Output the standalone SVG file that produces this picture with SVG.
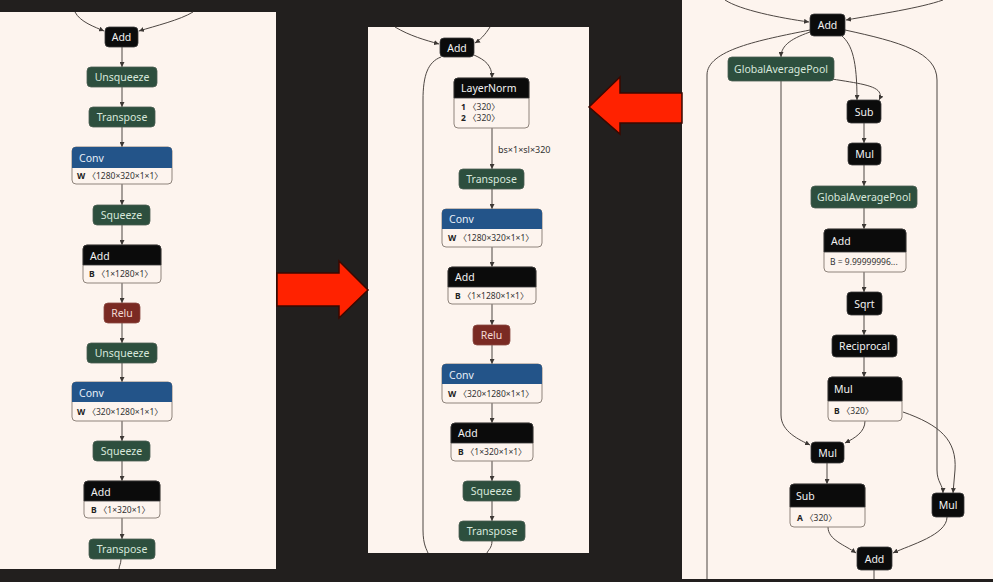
<svg xmlns="http://www.w3.org/2000/svg" width="993" height="582" viewBox="0 0 993 582">
<defs>
<marker id="ah" viewBox="0 0 6 6" refX="6" refY="3" markerWidth="5" markerHeight="5" orient="auto" markerUnits="userSpaceOnUse">
<path d="M0,0 L6,3 L0,6 Z" fill="#3d3835"/>
</marker>
<style>
.panel{fill:#fdf4ee}
.e{fill:none;stroke:#4d4642;stroke-width:1;marker-end:url(#ah)}
.n{fill:none;stroke:#4d4642;stroke-width:1}
.blk{fill:#0b0b0b;stroke:#3a3a3a;stroke-width:0.8}
.grn{fill:#2d4f3e;stroke:#4a5e52;stroke-width:0.8}
.red{fill:#7a2a23;stroke:#8a4a42;stroke-width:0.8}
.blu{fill:#235489}
.body{fill:#fdf4ee;stroke:#8f847c;stroke-width:1}
text{font-family:"Noto Sans","DejaVu Sans","Noto Sans CJK SC",sans-serif}
.t{font-size:10.5px;text-anchor:middle}
.th{font-size:10.5px}
.tw{fill:#f2f2f2}
.tg{fill:#d8e8dc}
.tb{fill:#e8eff8}
.tr{fill:#f3d8d2}
.bd{font-size:8.5px;fill:#333;font-family:"Noto Sans","Noto Sans CJK SC",sans-serif}
.bb{font-weight:bold;fill:#222}
.lbl{font-size:9px;fill:#333}
.arrow{fill:#ff2200;stroke:#3a0800;stroke-width:1.5}
</style>
</defs>
<rect width="993" height="582" fill="#221f1e"/>
<rect class="panel" x="0" y="12" width="276" height="557"/>
<rect class="panel" x="368" y="27" width="221" height="526"/>
<rect class="panel" x="682" y="0" width="311" height="579"/>
<g id="arrows">
<polygon class="arrow" points="277,273 339,273 339,261 368,290 339,318 339,306 277,306"/>
<polygon class="arrow" points="682,93 620,93 620,77 589,107 620,134 620,123 682,123"/>
</g>
<g id="connectors">
<path class="e" d="M75 12 C80 22,95 27,104 31"/>
<path class="e" d="M193 12 C180 20,155 26,139 31"/>
<path class="e" d="M122 47 V67"/>
<path class="e" d="M122 87 V107"/>
<path class="e" d="M122 127 V147"/>
<path class="e" d="M122 184 V205"/>
<path class="e" d="M122 225 V245"/>
<path class="e" d="M122 283 V303"/>
<path class="e" d="M122 323 V343"/>
<path class="e" d="M122 363 V382"/>
<path class="e" d="M122 421 V441"/>
<path class="e" d="M122 461 V481"/>
<path class="e" d="M122 518 V539"/>
<path class="n" d="M121 559 C121 564,119 566,119 569"/>
<path class="e" d="M395 27 C410 36,425 40,439 44"/>
<path class="e" d="M490 27 C485 35,480 40,475 43"/>
<path class="e" d="M474 55 C485 60,492 65,492 78"/>
<path class="n" d="M441 57 C428 62,423 75,423 100 V530 C423 545,427 550,428 553"/>
<path class="e" d="M492 128 V169"/>
<path class="e" d="M492 189 V209"/>
<path class="e" d="M492 247 V267"/>
<path class="e" d="M492 304 V325"/>
<path class="e" d="M492 345 V364"/>
<path class="e" d="M492 403 V423"/>
<path class="e" d="M492 461 V481"/>
<path class="e" d="M492 501 V521"/>
<path class="n" d="M492 541 C492 548,488 550,487 553"/>
<text class="lbl" x="498" y="153">bs×1×sl×320</text>
<path class="e" d="M725 0 C740 10,780 18,809 22"/>
<path class="e" d="M943 0 C920 8,880 14,846 20"/>
<path class="e" d="M813 31 C792 38,781 45,781 57"/>
<path class="n" d="M810 30 C760 40,707 50,707 75 V579"/>
<path class="e" d="M842 36 C852 45,857 60,857 100"/>
<path class="e" d="M845 30 C900 42,937 52,937 80 V470 C937 482,943 485,943 493"/>
<path class="e" d="M832 79 C862 84,886 86,879 100"/>
<path class="e" d="M781 81 V415 C781 432,800 440,810 445"/>
<path class="e" d="M864 123 V143"/>
<path class="e" d="M864 165 V186"/>
<path class="e" d="M864 208 V229"/>
<path class="e" d="M864 272 V292"/>
<path class="e" d="M864 315 V335"/>
<path class="e" d="M864 357 V377"/>
<path class="e" d="M865 421 C865 432,855 438,845 443"/>
<path class="e" d="M903 412 C940 425,957 440,955 470 L953 493"/>
<path class="e" d="M827 463 V484"/>
<path class="e" d="M828 527 C828 540,845 545,856 553"/>
<path class="e" d="M947 517 C947 535,910 545,893 553"/>
<path class="n" d="M874 570 V579"/>
</g>
<!-- left panel -->
<g id="L_add1"><rect class="blk" x="105" y="27" width="33" height="20" rx="4"/><text class="t tw" x="121.5" y="41">Add</text></g>
<g id="L_unsq1"><rect class="grn" x="87" y="67" width="70" height="20" rx="4"/><text class="t tg" x="122" y="81">Unsqueeze</text></g>
<g id="L_tr1"><rect class="grn" x="89" y="107" width="66" height="20" rx="4"/><text class="t tg" x="122" y="121">Transpose</text></g>
<g id="L_conv1"><rect class="body" x="72" y="147" width="100" height="37" rx="4"/><path class="blu" d="M72 168 V151 Q72 147 76 147 H168 Q172 147 172 151 V168 Z"/><text class="th tb" x="79" y="162">Conv</text><text class="bd" x="77" y="179"><tspan class="bb">W</tspan> 〈1280×320×1×1〉</text></g>
<g id="L_sq1"><rect class="grn" x="93" y="205" width="57" height="20" rx="4"/><text class="t tg" x="121.5" y="219">Squeeze</text></g>
<g id="L_add2"><rect class="body" x="83" y="245" width="78" height="38" rx="4"/><path class="blk" d="M83 265 V249 Q83 245 87 245 H157 Q161 245 161 249 V265 Z"/><text class="th tw" x="90" y="260">Add</text><text class="bd" x="89" y="277"><tspan class="bb">B</tspan> 〈1×1280×1〉</text></g>
<g id="L_relu"><rect class="red" x="104" y="303" width="36" height="20" rx="4"/><text class="t tr" x="122" y="317">Relu</text></g>
<g id="L_unsq2"><rect class="grn" x="87" y="343" width="70" height="20" rx="4"/><text class="t tg" x="122" y="357">Unsqueeze</text></g>
<g id="L_conv2"><rect class="body" x="72" y="382" width="100" height="39" rx="4"/><path class="blu" d="M72 402 V386 Q72 382 76 382 H168 Q172 382 172 386 V402 Z"/><text class="th tb" x="79" y="397">Conv</text><text class="bd" x="77" y="415"><tspan class="bb">W</tspan> 〈320×1280×1×1〉</text></g>
<g id="L_sq2"><rect class="grn" x="93" y="441" width="57" height="20" rx="4"/><text class="t tg" x="121.5" y="455">Squeeze</text></g>
<g id="L_add3"><rect class="body" x="84" y="481" width="76" height="37" rx="4"/><path class="blk" d="M84 501 V485 Q84 481 88 481 H156 Q160 481 160 485 V501 Z"/><text class="th tw" x="91" y="496">Add</text><text class="bd" x="91" y="513"><tspan class="bb">B</tspan> 〈1×320×1〉</text></g>
<g id="L_tr2"><rect class="grn" x="89" y="539" width="66" height="20" rx="4"/><text class="t tg" x="122" y="553">Transpose</text></g>
<!-- middle panel -->
<g id="M_add"><rect class="blk" x="440" y="38" width="34" height="19" rx="4"/><text class="t tw" x="457" y="51.5">Add</text></g>
<g id="M_ln"><rect class="body" x="454" y="78" width="75" height="50" rx="4"/><path class="blk" d="M454 98 V82 Q454 78 458 78 H525 Q529 78 529 82 V98 Z"/><text class="th tw" x="461" y="92">LayerNorm</text><text class="bd" x="461" y="110"><tspan class="bb">1</tspan> 〈320〉</text><text class="bd" x="461" y="121"><tspan class="bb">2</tspan> 〈320〉</text></g>
<g id="M_tr1"><rect class="grn" x="459" y="169" width="65" height="20" rx="4"/><text class="t tg" x="491.5" y="183">Transpose</text></g>
<g id="M_conv1"><rect class="body" x="442" y="209" width="100" height="38" rx="4"/><path class="blu" d="M442 229 V213 Q442 209 446 209 H538 Q542 209 542 213 V229 Z"/><text class="th tb" x="449" y="223">Conv</text><text class="bd" x="448" y="241"><tspan class="bb">W</tspan> 〈1280×320×1×1〉</text></g>
<g id="M_add2"><rect class="body" x="448" y="267" width="88" height="37" rx="4"/><path class="blk" d="M448 287 V271 Q448 267 452 267 H532 Q536 267 536 271 V287 Z"/><text class="th tw" x="455" y="281">Add</text><text class="bd" x="455" y="299"><tspan class="bb">B</tspan> 〈1×1280×1×1〉</text></g>
<g id="M_relu"><rect class="red" x="473" y="325" width="37" height="20" rx="4"/><text class="t tr" x="491.5" y="339">Relu</text></g>
<g id="M_conv2"><rect class="body" x="442" y="364" width="100" height="39" rx="4"/><path class="blu" d="M442 384 V368 Q442 364 446 364 H538 Q542 364 542 368 V384 Z"/><text class="th tb" x="449" y="379">Conv</text><text class="bd" x="448" y="397"><tspan class="bb">W</tspan> 〈320×1280×1×1〉</text></g>
<g id="M_add3"><rect class="body" x="451" y="423" width="82" height="38" rx="4"/><path class="blk" d="M451 443 V427 Q451 423 455 423 H529 Q533 423 533 427 V443 Z"/><text class="th tw" x="458" y="437">Add</text><text class="bd" x="458" y="455"><tspan class="bb">B</tspan> 〈1×320×1×1〉</text></g>
<g id="M_sq"><rect class="grn" x="463" y="481" width="57" height="20" rx="4"/><text class="t tg" x="491.5" y="495">Squeeze</text></g>
<g id="M_tr2"><rect class="grn" x="459" y="521" width="66" height="20" rx="4"/><text class="t tg" x="492" y="535">Transpose</text></g>
<!-- right panel -->
<g id="R_add1"><rect class="blk" x="810" y="14" width="35" height="22" rx="4"/><text class="t tw" x="827.5" y="29">Add</text></g>
<g id="R_gap1"><rect class="grn" x="728" y="57" width="106" height="24" rx="4"/><text class="t tg" x="781" y="73" font-size="10">GlobalAveragePool</text></g>
<g id="R_sub1"><rect class="blk" x="847" y="100" width="34" height="23" rx="4"/><text class="t tw" x="864" y="115.5">Sub</text></g>
<g id="R_mul1"><rect class="blk" x="848" y="143" width="33" height="22" rx="4"/><text class="t tw" x="864.5" y="158">Mul</text></g>
<g id="R_gap2"><rect class="grn" x="811" y="186" width="106" height="22" rx="4"/><text class="t tg" x="864" y="201" font-size="10">GlobalAveragePool</text></g>
<g id="R_add2"><rect class="body" x="824" y="229" width="82" height="43" rx="4"/><path class="blk" d="M824 252 V233 Q824 229 828 229 H902 Q906 229 906 233 V252 Z"/><text class="th tw" x="831" y="245">Add</text><text class="bd" x="830" y="265" font-size="8">B = 9.99999996...</text></g>
<g id="R_sqrt"><rect class="blk" x="847" y="292" width="35" height="23" rx="4"/><text class="t tw" x="864.5" y="307.5">Sqrt</text></g>
<g id="R_recip"><rect class="blk" x="832" y="335" width="65" height="22" rx="4"/><text class="t tw" x="864.5" y="350">Reciprocal</text></g>
<g id="R_mul3"><rect class="body" x="828" y="377" width="74" height="44" rx="4"/><path class="blk" d="M828 401 V381 Q828 377 832 377 H898 Q902 377 902 381 V401 Z"/><text class="th tw" x="834" y="393">Mul</text><text class="bd" x="834" y="414"><tspan class="bb">B</tspan> 〈320〉</text></g>
<g id="R_mul2"><rect class="blk" x="811" y="442" width="33" height="21" rx="4"/><text class="t tw" x="827.5" y="456.5">Mul</text></g>
<g id="R_sub2"><rect class="body" x="790" y="484" width="75" height="43" rx="4"/><path class="blk" d="M790 507 V488 Q790 484 794 484 H861 Q865 484 865 488 V507 Z"/><text class="th tw" x="796" y="500">Sub</text><text class="bd" x="797" y="521"><tspan class="bb">A</tspan> 〈320〉</text></g>
<g id="R_mul4"><rect class="blk" x="932" y="493" width="32" height="24" rx="4"/><text class="t tw" x="948" y="509">Mul</text></g>
<g id="R_add3"><rect class="blk" x="857" y="547" width="35" height="23" rx="4"/><text class="t tw" x="874.5" y="562.5">Add</text></g>
</svg>
